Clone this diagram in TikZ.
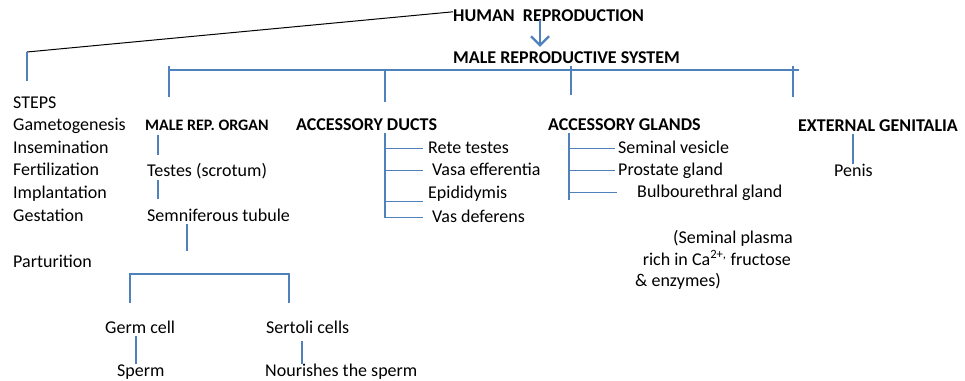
\documentclass[tikz,border=0pt]{standalone}
\usepackage{fontspec}
\setmainfont{Carlito}
\usetikzlibrary{arrows.meta}
\definecolor{lineblue}{RGB}{79,129,189}

\begin{document}
\begin{tikzpicture}
	[x=1pt,y=-1pt,node distance=22.6pt,]
	\tikzstyle{txt}=[inner sep=0pt, anchor=base west, text height=12pt, text depth=3pt, font=\fontsize{18}{21}\selectfont];
	\tikzstyle{head}=[txt, font=\fontsize{18}{21}\selectfont\bfseries];
	\tikzstyle{stepitem}=[txt, text width=110pt, align=left];
	\tikzstyle{link}=[draw=lineblue, line width=1.1pt];

	\useasboundingbox[fill=white] (0,0) rectangle (965,380);

	\node[head] (hr) at (453,21) {HUMAN\ \ REPRODUCTION};
	\node[head] (mrs) at (453,63) {MALE REPRODUCTIVE SYSTEM};

	\node[stepitem] (steps) at (13,108) {STEPS};
	\node[stepitem] (gam) [below of=steps] {Gametogenesis};
	\node[stepitem] (insem) [below of=gam] {Insemination};
	\node[stepitem] (fert) [below of=insem] {Fertilization};
	\node[stepitem] (impl) [below of=fert] {Implantation};
	\node[stepitem] (gest) [below of=impl] {Gestation};
	\node[stepitem] (part) [below of=gest, node distance=46pt] {Parturition};

	\node[head, font=\fontsize{16}{19}\selectfont\bfseries] (organ) at (145,130) {MALE REP. ORGAN};
	\node[txt] (testes) at (147,176) {Testes (scrotum)};
	\node[txt] (tubule) at (147,221) {Semniferous tubule};
	\node[txt] (germ) at (105,333) {Germ cell};
	\node[txt] (sperm) at (117,376) {Sperm};
	\node[txt] (sertoli) at (266,333) {Sertoli cells};
	\node[txt] (nourish) at (265,376) {Nourishes the sperm};

	\node[head] (ducts) at (296,130) {ACCESSORY DUCTS};
	\node[txt] (rete) at (428,153) {Rete testes};
	\node[txt] (vasa) at (432,175) {Vasa efferentia};
	\node[txt] (epi) at (428,198) {Epididymis};
	\node[txt] (vas) at (432,222) {Vas deferens};

	\node[head] (glands) at (548,130) {ACCESSORY GLANDS};
	\node[txt] (seminal) at (618,153) {Seminal vesicle};
	\node[txt] (prostate) at (618,175) {Prostate gland};
	\node[txt] (bulbo) at (637,197) {Bulbourethral gland};
	\node[txt, anchor=base east] (plasma) at (793,243) {(Seminal plasma};
	\node[txt, anchor=base east] (rich) at (791,265) {rich in Ca\textsuperscript{2+,} fructose};
	\node[txt] (enz) at (635,286) {\& enzymes)};

	\node[head] (ext) at (798,131) {EXTERNAL GENITALIA};
	\node[txt] (penis) at (834,176) {Penis};

	\coordinate (knee) at (27,52);
	\coordinate (barL) at (169,70);
	\coordinate (barR) at (793,70);
	\coordinate (brL) at (130,274);
	\coordinate (brM) at (187,274);
	\coordinate (brR) at (289,274);
	\coordinate (dtop) at ([xshift=89pt]ducts.south west);
	\coordinate (gtop) at ([xshift=21pt]glands.south west);

	\draw[line width=1pt] ([yshift=-3pt]hr.north west) -- (knee);
	\draw[lineblue, line width=2.2pt, -{Straight Barb[length=9pt,width=18pt]}] ([xshift=87pt,yshift=4pt]hr.south west) -- ([xshift=87pt,yshift=4pt]mrs.north west);
	\draw[link] (barL) -- ([xshift=6pt]barR);
	\draw[link] (dtop) |- ([xshift=-9pt]vas.west);
	\draw[link] (gtop) -- (gtop |- bulbo.south);
	\draw[link, shorten <=18pt, shorten >=18pt] (germ.north -| brL) |- (brR) -- (sertoli.north -| brR);

	\path
	(knee) edge[link, shorten >=15pt] (knee |- steps.north)
	(barL |- mrs.south) edge[link, shorten >=21pt] (barL |- organ.north)
	(barL -| dtop) edge[link, shorten >=16pt] (dtop |- ducts.north)
	([xshift=118pt]mrs.south west) edge[link, shorten >=23pt] ([xshift=23pt]glands.north west)
	(barR |- mrs.south) edge[link, shorten >=22pt] (barR |- ext.north)
	([xshift=13pt]organ.south west) edge[link, shorten <=2pt, shorten >=9pt] ([xshift=11pt]testes.north west)
	([xshift=11pt]testes.south west) edge[link, shorten <=1pt, shorten >=10pt] ([xshift=11pt]tubule.north west)
	(tubule.south west -| brM) edge[link, shorten >=23pt] (brM)
	([xshift=31pt]germ.south west) edge[link] ([xshift=19pt]sperm.north west)
	([xshift=36pt]sertoli.south west) edge[link, shorten <=5pt] ([xshift=37pt]nourish.north west)
	(dtop |- rete.west) edge[link, shorten >=5pt] (rete.west)
	(dtop |- vasa.west) edge[link, shorten >=9pt] (vasa.west)
	(dtop |- epi.south) edge[link, shorten >=5pt] (epi.south west)
	(gtop |- seminal.west) edge[link, shorten >=3pt] (seminal.west)
	(gtop |- prostate.west) edge[link, shorten >=3pt] (prostate.west)
	(gtop |- bulbo.west) edge[link, shorten >=20pt] (bulbo.west)
	([xshift=55pt]ext.south west) edge[link] ([xshift=19pt]penis.north west);

\end{tikzpicture}
\end{document}
